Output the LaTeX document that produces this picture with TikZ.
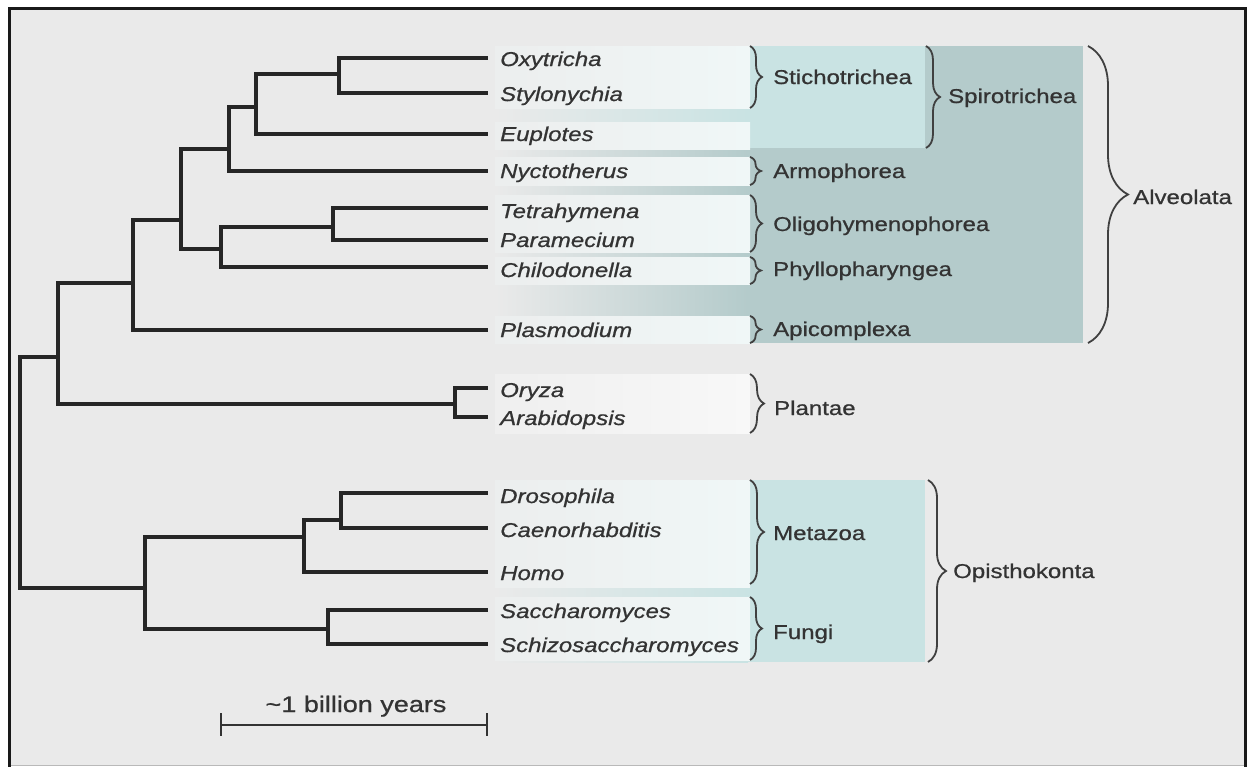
\documentclass[tikz,border=0pt]{standalone}
\usepackage{fontspec}
\setmainfont{Liberation Sans}[FakeStretch=1.2,FakeBold=0.8]
\usetikzlibrary{decorations.pathreplacing}
\definecolor{bgc}{HTML}{EAEAEA}
\definecolor{tdark}{HTML}{B4CBCB}
\definecolor{tlight}{HTML}{C9E3E3}
\definecolor{txt}{HTML}{333333}
\definecolor{boxL}{HTML}{ECEEEE}
\definecolor{boxR}{HTML}{F0F7F7}
\definecolor{pboxL}{HTML}{EFEFEF}
\definecolor{pboxR}{HTML}{F8F8F8}
\begin{document}
\begin{tikzpicture}[x=1pt,y=-1pt,
  tree/.style={line width=3.3pt,draw=black!85,line cap=rect},
  leaf/.style={font=\fontsize{20}{24}\selectfont\itshape,text=txt,inner sep=0pt,anchor=base west},
  grp/.style={font=\fontsize{20}{24}\selectfont,text=txt,inner sep=0pt,anchor=base west},
  brc/.style={decorate,decoration={brace,amplitude=#1},line width=1.8pt,draw=black!75},
  tband/.style={left color=bgc,right color=#1},
  lbox/.style={left color=boxL,right color=boxR},
  pbox/.style={left color=pboxL,right color=pboxR}]
\useasboundingbox (0,0) rectangle (1253,766);
% page and frame
\fill[white] (0,0) rectangle (1253,766);
\fill[bgc] (9,8) rectangle (1245,766);
\draw[gray!55,line width=1pt] (9,765.5) -- (1245,765.5);
\draw[line width=3pt,black!90] (9,770) -- (9,8) -- (1245,8) -- (1245,770);
% shaded groups
\fill[tdark] (748,46) rectangle (1083,343);
\shade[tband=tdark] (495,46) rectangle (748,343);
\fill[tlight] (748,46) rectangle (925,148);
\shade[tband=tlight] (495,46) rectangle (748,148);
\fill[tlight] (748,480) rectangle (925,662);
\shade[tband=tlight] (495,480) rectangle (748,662);
% label boxes
\shade[lbox] (495,46) rectangle (750,108);
\shade[lbox] (495,122) rectangle (750,149);
\shade[lbox] (495,157) rectangle (750,185);
\shade[lbox] (495,195) rectangle (750,252);
\shade[lbox] (495,257) rectangle (750,284);
\shade[lbox] (495,316) rectangle (750,343);
\shade[pbox] (495,374) rectangle (750,433);
\shade[lbox] (495,480) rectangle (750,587);
\shade[lbox] (495,597) rectangle (750,660);
% leaf tips
\coordinate (tOxy) at (486,58);
\coordinate (tSty) at (486,93);
\coordinate (tEup) at (486,134);
\coordinate (tNyc) at (486,171);
\coordinate (tTet) at (486,208);
\coordinate (tPar) at (486,240);
\coordinate (tChi) at (486,267);
\coordinate (tPla) at (486,330);
\coordinate (tOry) at (486,388);
\coordinate (tAra) at (486,417);
\coordinate (tDro) at (486,493);
\coordinate (tCae) at (486,528);
\coordinate (tHom) at (486,572);
\coordinate (tSac) at (486,610);
\coordinate (tSch) at (486,644);
% internal nodes
\coordinate (nOS) at (339,74);
\coordinate (nOSE) at (256,107);
\coordinate (nSN) at (229,149);
\coordinate (nTP) at (333,227);
\coordinate (nTPC) at (221,249);
\coordinate (nCil) at (181,220);
\coordinate (nAlv) at (133,283);
\coordinate (nOA) at (455,404);
\coordinate (nAP) at (58,357);
\coordinate (nDC) at (341,520);
\coordinate (nDCH) at (304,537);
\coordinate (nSS) at (328,629);
\coordinate (nOpi) at (145,588);
\coordinate (root) at (20,470);
% tree
\draw[tree] (nOS) |- (tOxy);
\draw[tree] (nOS) |- (tSty);
\draw[tree] (nOSE) |- (nOS);
\draw[tree] (nOSE) |- (tEup);
\draw[tree] (nSN) |- (nOSE);
\draw[tree] (nSN) |- (tNyc);
\draw[tree] (nTP) |- (tTet);
\draw[tree] (nTP) |- (tPar);
\draw[tree] (nTPC) |- (nTP);
\draw[tree] (nTPC) |- (tChi);
\draw[tree] (nCil) |- (nSN);
\draw[tree] (nCil) |- (nTPC);
\draw[tree] (nAlv) |- (nCil);
\draw[tree] (nAlv) |- (tPla);
\draw[tree] (nOA) |- (tOry);
\draw[tree] (nOA) |- (tAra);
\draw[tree] (nAP) |- (nAlv);
\draw[tree] (nAP) |- (nOA);
\draw[tree] (nDC) |- (tDro);
\draw[tree] (nDC) |- (tCae);
\draw[tree] (nDCH) |- (nDC);
\draw[tree] (nDCH) |- (tHom);
\draw[tree] (nSS) |- (tSac);
\draw[tree] (nSS) |- (tSch);
\draw[tree] (nOpi) |- (nDCH);
\draw[tree] (nOpi) |- (nSS);
\draw[tree] (root) |- (nAP);
\draw[tree] (root) |- (nOpi);
% leaf labels
\node[leaf] (lOxy) at (500,66) {Oxytricha};
\node[leaf] (lSty) at (500,101) {Stylonychia};
\node[leaf] (lEup) at (500,141) {Euplotes};
\node[leaf] (lNyc) at (500,178) {Nyctotherus};
\node[leaf] (lTet) at (500,218) {Tetrahymena};
\node[leaf] (lPar) at (500,247) {Paramecium};
\node[leaf] (lChi) at (500,277) {Chilodonella};
\node[leaf] (lPla) at (500,337) {Plasmodium};
\node[leaf] (lOry) at (500,397) {Oryza};
\node[leaf] (lAra) at (500,425) {Arabidopsis};
\node[leaf] (lDro) at (500,503) {Drosophila};
\node[leaf] (lCae) at (500,537) {Caenorhabditis};
\node[leaf] (lHom) at (500,580) {Homo};
\node[leaf] (lSac) at (500,618) {Saccharomyces};
\node[leaf] (lSch) at (500,652) {Schizosaccharomyces};
% braces
\coordinate (bSt1) at (750,46);  \coordinate (bSt2) at (750,108);
\coordinate (bSp1) at (926,46);  \coordinate (bSp2) at (926,148);
\coordinate (bAl1) at (1088,46); \coordinate (bAl2) at (1088,343);
\coordinate (bAr1) at (750,157); \coordinate (bAr2) at (750,185);
\coordinate (bOl1) at (750,195); \coordinate (bOl2) at (750,252);
\coordinate (bPh1) at (750,257); \coordinate (bPh2) at (750,284);
\coordinate (bAp1) at (750,316); \coordinate (bAp2) at (750,343);
\coordinate (bPl1) at (750,374); \coordinate (bPl2) at (750,433);
\coordinate (bMe1) at (750,480); \coordinate (bMe2) at (750,584);
\coordinate (bFu1) at (750,597); \coordinate (bFu2) at (750,660);
\coordinate (bOp1) at (928,480); \coordinate (bOp2) at (928,662);
\draw[brc=12] (bSt1) -- (bSt2);
\draw[brc=14] (bSp1) -- (bSp2);
\draw[brc=40] (bAl1) -- (bAl2);
\draw[brc=11] (bAr1) -- (bAr2);
\draw[brc=12] (bOl1) -- (bOl2);
\draw[brc=11] (bPh1) -- (bPh2);
\draw[brc=11] (bAp1) -- (bAp2);
\draw[brc=14] (bPl1) -- (bPl2);
\draw[brc=14] (bMe1) -- (bMe2);
\draw[brc=12] (bFu1) -- (bFu2);
\draw[brc=18] (bOp1) -- (bOp2);
% group labels
\node[grp] (gSt) at (773,84) {Stichotrichea};
\node[grp] (gSp) at (948,103) {Spirotrichea};
\node[grp] (gAl) at (1133,204) {Alveolata};
\node[grp] (gAr) at (773,178) {Armophorea};
\node[grp] (gOl) at (773,231) {Oligohymenophorea};
\node[grp] (gPh) at (773,276) {Phyllopharyngea};
\node[grp] (gAp) at (773,336) {Apicomplexa};
\node[grp] (gPl) at (774,415) {Plantae};
\node[grp] (gMe) at (773,540) {Metazoa};
\node[grp] (gFu) at (773,639) {Fungi};
\node[grp] (gOp) at (953,578) {Opisthokonta};
% scale bar
\coordinate (sbL) at (221,725);
\coordinate (sbR) at (487,725);
\draw[line width=2.5pt,black!80] (sbL) -- (sbR);
\draw[line width=2.5pt,black!80] ([yshift=12pt]sbL) -- ([yshift=-11pt]sbL);
\draw[line width=2.5pt,black!80] ([yshift=12pt]sbR) -- ([yshift=-11pt]sbR);
\node[grp,anchor=base,font=\fontsize{22.5}{26}\selectfont] (sbT) at (356,712) {\char`\~1 billion years};
\end{tikzpicture}
\end{document}
